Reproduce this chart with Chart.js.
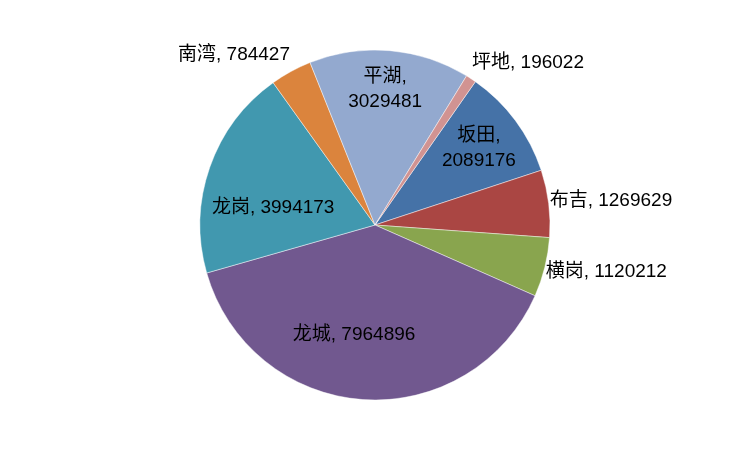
<!DOCTYPE html>
<html>
<head>
<meta charset="utf-8">
<script src="https://cdn.jsdelivr.net/npm/chart.js@4"></script>
<style>
  html, body { margin: 0; padding: 0; background: #fff; }
  #wrap { width: 750px; height: 450px; }
</style>
</head>
<body>
<div id="wrap"><canvas id="my-chart" width="750" height="450"></canvas></div>
<script>
'use strict';

// ********** DATA **********
let districts = ['坂田', '布吉', '横岗', '龙城', '龙岗', '南湾', '平湖', '坪地'];
let population = [2089176, 1269629, 1120212, 7964896, 3994173, 784427, 3029481, 196022];
let sliceColors = ['#4572A7', '#AA4643', '#89A54E', '#71588F', '#4198AF', '#DB843D', '#93A9CF', '#D19392'];

// label placement: inside (radius factor + angle tweak in degrees) or outside end
let labelPlace = [
  { mode: 'in', f: 0.74, da: 0, split: true },
  { mode: 'out' },
  { mode: 'out' },
  { mode: 'in', f: 0.64, da: 6.8 },
  { mode: 'in', f: 0.59, da: -9.8 },
  { mode: 'out' },
  { mode: 'in', f: 0.78, da: -0.6, split: true },
  { mode: 'out' }
];

let labelFont = '19px "Liberation Sans", "Noto Sans CJK SC", sans-serif';

// ********** LABEL PLUGIN **********
let sliceLabels = {
  id: 'sliceLabels',
  afterDatasetsDraw(chart) {
    let ctx = chart.ctx;
    let meta = chart.getDatasetMeta(0);
    ctx.save();
    ctx.font = labelFont;
    ctx.fillStyle = '#000';
    meta.data.forEach(function (arc, i) {
      let p = labelPlace[i];
      let mid = (arc.startAngle + arc.endAngle) / 2;
      let name = districts[i];
      let val = String(population[i]);
      if (p.mode === 'in') {
        let a = mid + p.da * Math.PI / 180;
        let r = arc.outerRadius * p.f;
        let x = arc.x + Math.cos(a) * r;
        let y = arc.y + Math.sin(a) * r;
        ctx.textAlign = 'center';
        ctx.textBaseline = 'middle';
        if (p.split) {
          ctx.fillText(name + ',', x, y - 12.5);
          ctx.fillText(val, x, y + 12.5);
        } else {
          ctx.fillText(name + ', ' + val, x, y);
        }
      } else {
        let px = arc.x + Math.cos(mid) * arc.outerRadius;
        let py = arc.y + Math.sin(mid) * arc.outerRadius;
        let right = Math.cos(mid) >= 0;
        ctx.textAlign = right ? 'left' : 'right';
        ctx.textBaseline = 'middle';
        let x = px + (right ? 1 : -1);
        let y = py + Math.sin(mid) * 19;
        ctx.fillText(name + ', ' + val, x, y);
      }
    });
    ctx.restore();
  }
};

// ********** CHART **********
let ctx = document.getElementById('my-chart').getContext('2d');

new Chart(ctx, {
  type: 'pie',
  data: {
    labels: districts,
    datasets: [{
      data: population,
      backgroundColor: sliceColors,
      borderColor: 'rgba(255,255,255,0.45)',
      borderWidth: 1
    }]
  },
  options: {
    responsive: false,
    animation: false,
    rotation: 35,
    radius: 175,
    layout: { padding: 0 },
    plugins: {
      legend: { display: false },
      tooltip: { enabled: false }
    }
  },
  plugins: [sliceLabels]
});
</script>
</body>
</html>
